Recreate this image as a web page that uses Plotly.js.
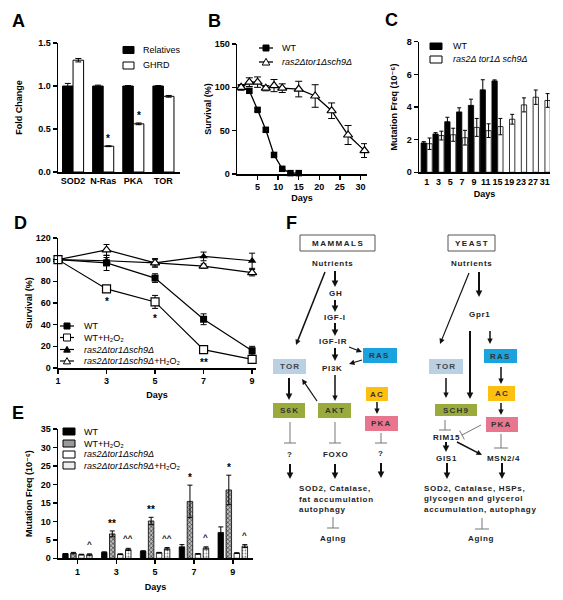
<!DOCTYPE html>
<html><head><meta charset="utf-8">
<script src="https://cdn.plot.ly/plotly-3.0.1.min.js"></script>
<style>html,body{margin:0;padding:0;background:#fff}</style>
</head><body><div id="chart" style="width:563px;height:600px"></div>
<script>
// ---------- Panel A ----------
const aGenes = ['SOD2','N-Ras','PKA','TOR'];
const aRelatives = [1.0, 1.0, 1.0, 1.0];
const aRelativesErr = [0.03, 0.01, 0.005, 0.005];
const aGHRD = [1.30, 0.30, 0.56, 0.88];
const aGHRDErr = [0.02, 0.005, 0.01, 0.01];
const aStars = ['', '*', '*', ''];

// ---------- Panel B ----------
const bDaysWT = [1,3,5,7,9,11,13,15];
const bWT = [100,96,74,51,22,6,1,1];
const bWTErr = [0,2,2,2,2,1,0,0];
const bDaysMut = [1,3,5,7,9,11,15,19,23,27,31];
const bMut = [100,106,106,99,102,99,98,90,73,45,27];
const bMutErr = [3,5,6,3,7,5,9,13,9,11,8];

// ---------- Panel C ----------
const cDays = ['1','3','5','7','9','11','15','19','23','27','31'];
const cWT = [1.8,2.35,3.1,3.7,4.1,5.05,5.6,null,null,null,null];
const cWTErr = [0.08,0.08,0.27,0.25,0.38,0.62,0.06,0,0,0,0];
const cMut = [1.75,2.25,2.3,2.12,2.75,2.55,2.8,3.25,4.13,4.6,4.4];
const cMutErr = [0.35,0.27,0.4,0.45,0.55,0.42,0.5,0.3,0.43,0.44,0.42];

// ---------- Panel D ----------
const dDays = [1,3,5,7,9];
const dWT = [100,97,83,45,16];
const dWTErr = [0,7,4,5,4];
const dWTH2O2 = [100,73,61,17,8];
const dWTH2O2Err = [0,1.5,6,2,3];
const dMut = [100,99,97,103,99];
const dMutErr = [0,3,3,4,7];
const dMutH2O2 = [100,109,97,94,88];
const dMutH2O2Err = [0,5,4,2,3];
const dStars = ['', '*', '*', '**', ''];

// ---------- Panel E ----------
const eDays = ['1','3','5','7','9'];
const eWT = [1.2,1.6,1.9,3.1,7.0];
const eWTErr = [0.1,0.15,0.15,0.6,1.5];
const eWTH2O2 = [1.4,6.6,10.1,15.4,18.5];
const eWTH2O2Err = [0.2,0.8,1.0,4.4,4.0];
const eMut = [1.0,1.1,1.5,1.2,1.4];
const eMutErr = [0.1,0.1,0.1,0.1,0.1];
const eMutH2O2 = [1.0,2.4,2.6,2.8,3.3];
const eMutH2O2Err = [0.2,0.3,0.3,0.3,0.4];
const eStarsWTH2O2 = ['', '**', '**', '*', '*'];
const eCaretsMutH2O2 = ['^', '^^', '^^', '^', '^'];

// ---------- helpers ----------
const F = 'Liberation Sans, Arial, Helvetica, DejaVu Sans, sans-serif';
const W = 563, H = 600;
const px = x => x / W, py = y => 1 - y / H;
const H2O2 = 'H\u2082O\u2082';
const MUT = 'Mutation Freq (10\u207B\u2076)';

function T(text, x, y, o) {
  o = o || {};
  return {xref:'paper', yref:'paper', x:px(x), y:py(y), text:text, showarrow:false,
    xanchor:o.xa||'center', yanchor:o.ya||'middle', textangle:o.angle||0,
    font:{family:F, size:o.size||9, color:o.color||'#000'}};
}
function Dg(text, x, y, o) {
  o = Object.assign({size:8, color:'#222'}, o||{});
  return T('<b><span style="letter-spacing:' + (o.ls||0.7) + 'px">' + text + '</span></b>', x, y, o);
}
function Ln(x1,y1,x2,y2,w,c) {
  return {type:'line', xref:'paper', yref:'paper', x0:px(x1), y0:py(y1), x1:px(x2), y1:py(y2),
    line:{color:c||'#000', width:w||1}};
}
function Arr(x1,y1,x2,y2,w) {
  const big = w >= 2;
  const L = big ? 6.5 : 5.5, hw = big ? 3.3 : 2.7;
  const dx = x2-x1, dy = y2-y1, len = Math.hypot(dx,dy), ux = dx/len, uy = dy/len;
  const bx = x2-ux*L, by = y2-uy*L;
  const p1x = bx-uy*hw, p1y = by+ux*hw, p2x = bx+uy*hw, p2y = by-ux*hw;
  return [Ln(x1,y1,bx+ux*0.5,by+uy*0.5,w,'#111'),
    {type:'path', xref:'paper', yref:'paper',
     path:`M ${px(x2)} ${py(y2)} L ${px(p1x)} ${py(p1y)} L ${px(p2x)} ${py(p2y)} Z`,
     fillcolor:'#111', line:{width:0}}];
}
function Rc(x0,y0,x1,y1,fill,lc,lw) {
  return {type:'rect', xref:'paper', yref:'paper', x0:px(x0), y0:py(y1), x1:px(x1), y1:py(y0),
    fillcolor:fill, line:{color:lc||fill, width:(lw===undefined?(lc?1:0):lw)}};
}
function Tri(cx,cy,s,fill) {
  const p = `M ${px(cx-s)} ${py(cy+s*0.8)} L ${px(cx+s)} ${py(cy+s*0.8)} L ${px(cx)} ${py(cy-s*0.95)} Z`;
  return {type:'path', xref:'paper', yref:'paper', path:p, fillcolor:fill, line:{color:'#000', width:1}};
}
function Sq(cx,cy,s,fill) { return Rc(cx-s,cy-s,cx+s,cy+s,fill,'#000',1); }
function Inh(x1,y1,x2,y2,bx0,by0,bx1,by1) {
  return [Ln(x1,y1,x2,y2,1,'#777'), Ln(bx0,by0,bx1,by1,1,'#777')];
}
const titleFont = {family:F, size:9, color:'#000', weight:'bold'};
function ax(o) {
  return Object.assign({showline:true, linecolor:'#000', linewidth:1.5, ticks:'outside', ticklen:4,
    tickwidth:1.5, tickcolor:'#000', showgrid:false, zeroline:false, fixedrange:true, tickangle:0,
    tickfont:{family:F, size:9, color:'#000', weight:'bold'}}, o);
}
function ttl(text, standoff) { return {text:text, font:titleFont, standoff:standoff}; }
function eb(arr, w) { return {type:'data', array:arr, visible:true, color:'#000', thickness:1, width:w||2.5}; }
function mark(s, xr, yr, x, y, ya, ys, size) {
  return {xref:xr, yref:yr, x:x, y:y, text:'<b>'+s+'</b>', showarrow:false,
    xanchor:'center', yanchor:ya, yshift:ys, font:{family:F, size:size||10, color:'#000'}};
}

const traces = [];
// A
traces.push({type:'bar', x:aGenes, y:aRelatives, xaxis:'x', yaxis:'y', width:0.35, offset:-0.35,
  marker:{color:'#000', line:{color:'#000', width:1}}, error_y:eb(aRelativesErr,3), showlegend:false});
traces.push({type:'bar', x:aGenes, y:aGHRD, xaxis:'x', yaxis:'y', width:0.35, offset:0,
  marker:{color:'#fff', line:{color:'#000', width:1}}, error_y:eb(aGHRDErr,3), showlegend:false});
// B
traces.push({type:'scatter', mode:'lines+markers', x:bDaysWT, y:bWT, xaxis:'x2', yaxis:'y2', cliponaxis:false,
  line:{color:'#000', width:1.3}, marker:{symbol:'square', size:6.5, color:'#000'}, error_y:eb(bWTErr,3), showlegend:false});
traces.push({type:'scatter', mode:'lines+markers', x:bDaysMut, y:bMut, xaxis:'x2', yaxis:'y2', cliponaxis:false,
  line:{color:'#000', width:1.3}, marker:{symbol:'triangle-up', size:8, color:'#fff', line:{color:'#000', width:1.2}},
  error_y:eb(bMutErr,3.5), showlegend:false});
// C
traces.push({type:'bar', x:cDays, y:cWT, xaxis:'x3', yaxis:'y3', width:0.45, offset:-0.47,
  marker:{color:'#000', line:{color:'#000', width:0.8}}, error_y:eb(cWTErr,2), showlegend:false});
traces.push({type:'bar', x:cDays, y:cMut, xaxis:'x3', yaxis:'y3', width:0.45, offset:0.02,
  marker:{color:'#fff', line:{color:'#000', width:0.8}}, error_y:eb(cMutErr,2), showlegend:false});
// D
const dCommon = {type:'scatter', mode:'lines+markers', x:dDays, xaxis:'x4', yaxis:'y4', cliponaxis:false,
  line:{color:'#000', width:1.2}, showlegend:false};
traces.push(Object.assign({}, dCommon, {y:dWT, marker:{symbol:'square', size:7, color:'#000'}, error_y:eb(dWTErr,3)}));
traces.push(Object.assign({}, dCommon, {y:dMut, marker:{symbol:'triangle-up', size:7.5, color:'#000'}, error_y:eb(dMutErr,3)}));
traces.push(Object.assign({}, dCommon, {y:dMutH2O2, marker:{symbol:'triangle-up', size:8, color:'#fff', line:{color:'#000', width:1.2}}, error_y:eb(dMutH2O2Err,3)}));
traces.push(Object.assign({}, dCommon, {y:dWTH2O2, marker:{symbol:'square', size:8, color:'#fff', line:{color:'#000', width:1.2}}, error_y:eb(dWTH2O2Err,3)}));
// E
const eW = 0.142, eSlot = 0.206;
const eOff = k => (k - 1.5) * eSlot - eW / 2;
traces.push({type:'bar', x:eDays, y:eWT, xaxis:'x5', yaxis:'y5', width:eW, offset:eOff(0),
  marker:{color:'#000', line:{color:'#000', width:0.8}}, error_y:eb(eWTErr,2.5), showlegend:false});
traces.push({type:'bar', x:eDays, y:eWTH2O2, xaxis:'x5', yaxis:'y5', width:eW, offset:eOff(1),
  marker:{color:'#999', line:{color:'#000', width:0.8}, pattern:{shape:'x', fgcolor:'#222', bgcolor:'#bbb', size:3, solidity:0.35}},
  error_y:eb(eWTH2O2Err,2.5), showlegend:false});
traces.push({type:'bar', x:eDays, y:eMut, xaxis:'x5', yaxis:'y5', width:eW, offset:eOff(2),
  marker:{color:'#fff', line:{color:'#000', width:0.8}}, error_y:eb(eMutErr,2.5), showlegend:false});
traces.push({type:'bar', x:eDays, y:eMutH2O2, xaxis:'x5', yaxis:'y5', width:eW, offset:eOff(3),
  marker:{color:'#fff', line:{color:'#000', width:0.8}, pattern:{shape:'.', fgcolor:'#888', bgcolor:'#fff', size:3, solidity:0.3}},
  error_y:eb(eMutH2O2Err,2.5), showlegend:false});

// ---------- annotations ----------
const ann = [];
[['A',18,21],['B',215,21],['C',391,20],['D',20,223],['E',18,413],['F',291,223]].forEach(l =>
  ann.push(T('<b>'+l[0]+'</b>', l[1], l[2], {size:18})));

aStars.forEach((s,i) => { if (s) ann.push(mark(s, 'x', 'y', i+0.175, aGHRD[i]+aGHRDErr[i], 'bottom', 0)); });
dStars.forEach((s,i) => { if (s) ann.push(mark(s, 'x4', 'y4', dDays[i], dWTH2O2[i]-dWTH2O2Err[i], 'top', -3)); });
eStarsWTH2O2.forEach((s,i) => { if (s) ann.push(mark(s, 'x5', 'y5', i+eOff(1)+eW/2, eWTH2O2[i]+eWTH2O2Err[i], 'bottom', 0)); });
eCaretsMutH2O2.forEach((s,i) => { if (s) ann.push(mark(s, 'x5', 'y5', i+eOff(3)+eW/2, eMutH2O2[i]+eMutH2O2Err[i], 'bottom', 3, 8)); });

// legends (text)
ann.push(T('Relatives', 141, 50, {xa:'left'}));
ann.push(T('GHRD', 141, 65.5, {xa:'left'}));
ann.push(T('WT', 280, 48, {xa:'left'}));
ann.push(T('<i>ras2Δtor1Δsch9Δ</i>', 280, 62, {xa:'left'}));
ann.push(T('WT', 451, 46, {xa:'left'}));
ann.push(T('<i>ras2Δ tor1Δ sch9Δ</i>', 451, 59.5, {xa:'left'}));
const dLegY = [326, 337.5, 349.5, 361];
ann.push(T('WT', 82, dLegY[0], {xa:'left'}));
ann.push(T('WT+' + H2O2, 82, dLegY[1], {xa:'left'}));
ann.push(T('<i>ras2Δtor1Δsch9Δ</i>', 82, dLegY[2], {xa:'left'}));
ann.push(T('<i>ras2Δtor1Δsch9Δ</i>+' + H2O2, 82, dLegY[3], {xa:'left'}));
const eLegY = [431.5, 443.5, 454.5, 465.5];
ann.push(T('WT', 82, eLegY[0], {xa:'left'}));
ann.push(T('WT+' + H2O2, 82, eLegY[1], {xa:'left'}));
ann.push(T('<i>ras2Δtor1Δsch9Δ</i>', 82, eLegY[2], {xa:'left'}));
ann.push(T('<i>ras2Δtor1Δsch9Δ</i>+' + H2O2, 82, eLegY[3], {xa:'left'}));

// ---------- shapes ----------
const shp = [];
shp.push(Rc(123,46.5,134,53.5,'#000','#000',1));
shp.push(Rc(123,62,134,69,'#fff','#000',1));
shp.push(Ln(259,48,273,48,1.3)); shp.push(Sq(266,48,3,'#000'));
shp.push(Ln(259,62,273,62,1.3)); shp.push(Tri(266,62,3.8,'#fff'));
shp.push(Rc(430,43,442,49.5,'#000','#000',1));
shp.push(Rc(430,56,442,63,'#fff','#000',1));
shp.push(Ln(60,dLegY[0],74,dLegY[0],1.2)); shp.push(Sq(67,dLegY[0],3,'#000'));
shp.push(Ln(60,dLegY[1],74,dLegY[1],1.2)); shp.push(Sq(67,dLegY[1],3.5,'#fff'));
shp.push(Ln(60,dLegY[2],74,dLegY[2],1.2)); shp.push(Tri(67,dLegY[2],3.3,'#000'));
shp.push(Ln(60,dLegY[3],74,dLegY[3],1.2)); shp.push(Tri(67,dLegY[3],3.6,'#fff'));
shp.push(Rc(63,eLegY[0]-3.5,75,eLegY[0]+3.5,'#000','#000',1));
shp.push(Rc(63,eLegY[1]-3.5,75,eLegY[1]+3.5,'#9a9a9a','#000',1));
shp.push(Rc(63,eLegY[2]-3.5,75,eLegY[2]+3.5,'#fff','#000',1));
shp.push(Rc(63,eLegY[3]-3.5,75,eLegY[3]+3.5,'#eeeeee','#000',1));

// ---------- Panel F diagram ----------
const cTOR = '#b9d1e3', cRAS = '#1ba3de', cAC = '#fdc010', cPKA = '#e8768f', cGRN = '#9aab3c';
shp.push(Rc(300,235,375,251,'#fff','#555',1));
ann.push(Dg('MAMMALS', 337.5, 243, {ls:1.5}));
ann.push(Dg('Nutrients', 332, 263));
shp.push(...Arr(335,271,335,287,2));
ann.push(Dg('GH', 335, 293));
shp.push(...Arr(335,300,335,312,2));
ann.push(Dg('IGF-I', 335, 317));
shp.push(...Arr(335,323,335,336,2));
ann.push(Dg('IGF-IR', 333, 342));
shp.push(...Arr(335,348,335,361,2));
ann.push(Dg('PI3K', 333, 368));
shp.push(...Arr(335,375,335,401,1.5));
shp.push(Rc(318,403,351,418,cGRN));
ann.push(Dg('AKT', 334.5, 410.5, {ls:1.2, color:'#333'}));
shp.push(Rc(273,403,305,418,cGRN));
ann.push(Dg('S6K', 289, 410.5, {ls:1.2, color:'#333'}));
shp.push(Rc(273,359,306,374,cTOR));
ann.push(Dg('TOR', 289.5, 366.5, {ls:1.2, color:'#444'}));
shp.push(...Arr(325,272,296,345,1.5));
shp.push(...Arr(289,378,289,400,2));
shp.push(...Arr(317,401,302,379,1.2));
shp.push(...Arr(349,347,362,352,1.2));
shp.push(...Arr(362,360,349,364,1.2));
shp.push(Rc(363,348,397,363,cRAS));
ann.push(Dg('RAS', 380, 355.5, {ls:1.2, color:'#333'}));
shp.push(Rc(366,387,388,401,cAC));
ann.push(Dg('AC', 377, 394, {ls:1.2, color:'#333'}));
shp.push(...Arr(377,402,377,414,1.5));
shp.push(Rc(365,416,398,431,cPKA));
ann.push(Dg('PKA', 381.5, 423.5, {ls:1.2, color:'#333'}));
shp.push(...Inh(290,422,290,443,284,443,296,443));
ann.push(Dg('?', 290, 454));
shp.push(...Arr(290,464,290,479,2));
shp.push(...Inh(335,422,335,443,329,443,341,443));
ann.push(Dg('FOXO', 335, 454));
shp.push(...Arr(335,464,335,479,2));
shp.push(...Inh(381,433,381,443,375,443,387,443));
ann.push(Dg('?', 381, 453));
shp.push(...Arr(381,463,381,478,2));
ann.push(Dg('SOD2, Catalase,', 297, 489, {xa:'left'}));
ann.push(Dg('fat accumulation', 297, 499, {xa:'left'}));
ann.push(Dg('autophagy', 297, 509, {xa:'left'}));
shp.push(...Inh(333,517,333,528,327,528,339,528));
ann.push(Dg('Aging', 333, 538));
shp.push(Rc(448,235,495,251,'#fff','#555',1));
ann.push(Dg('YEAST', 471.5, 243, {ls:1.5}));
ann.push(Dg('Nutrients', 471, 263));
shp.push(...Arr(479,272,479,297,2));
ann.push(Dg('Gpr1', 480, 314));
shp.push(...Arr(469,273,440,344,1.2));
shp.push(...Arr(470,331,470,399,2));
shp.push(...Arr(490,331,490,344,1.5));
shp.push(Rc(484,349,517,363,cRAS));
ann.push(Dg('RAS', 500.5, 356, {ls:1.2, color:'#333'}));
shp.push(Rc(429,359,463,374,cTOR));
ann.push(Dg('TOR', 446, 366.5, {ls:1.2, color:'#444'}));
shp.push(...Arr(446,378,446,398,1.5));
shp.push(Rc(435,404,477,416,cGRN));
ann.push(Dg('SCH9', 456, 410, {ls:1.2, color:'#333'}));
shp.push(...Arr(501,367,501,384,1.5));
shp.push(Rc(488,386,515,401,cAC));
ann.push(Dg('AC', 501.5, 393.5, {ls:1.2, color:'#333'}));
shp.push(...Arr(501,403,501,415,1.5));
shp.push(Rc(486,417,518,432,cPKA));
ann.push(Dg('PKA', 502, 424.5, {ls:1.2, color:'#333'}));
shp.push(...Inh(445,420,445,430,439,430,451,430));
ann.push(Dg('RIM15', 446, 437));
shp.push(...Inh(481,425,462,435,459.7,430.6,464.3,439.4));
shp.push(...Arr(446,442,446,452,2));
ann.push(Dg('GIS1', 446, 458));
shp.push(...Arr(457,442,482,455,1.5));
shp.push(...Inh(501,434,501,448,494,448,508,448));
ann.push(Dg('MSN2/4', 503, 458));
shp.push(...Arr(447,463,447,479,2));
shp.push(...Arr(502,463,502,479,2));
ann.push(Dg('SOD2, Catalase, HSPs,', 422, 488, {xa:'left'}));
ann.push(Dg('glycogen and glycerol', 422, 498, {xa:'left'}));
ann.push(Dg('accumulation, autophagy', 422, 509, {xa:'left'}));
shp.push(...Inh(482,518,482,529,475,529,489,529));
ann.push(Dg('Aging', 481, 538));

const layout = {
  width: W, height: H, margin:{l:0, r:0, t:0, b:0, pad:0},
  paper_bgcolor:'#fff', plot_bgcolor:'rgba(0,0,0,0)',
  showlegend:false, barmode:'overlay', font:{family:F, size:9, color:'#000'},
  xaxis: ax({domain:[px(58), px(180)], type:'category', range:[-0.5,3.55], ticks:'', anchor:'y'}),
  yaxis: ax({domain:[py(172), py(43)], range:[0,1.5], tickvals:[0,0.5,1,1.5], tickformat:'.1f', anchor:'x',
    title:ttl('Fold Change', 14)}),
  xaxis2: ax({domain:[px(237), px(367)], range:[0,31.6], tickvals:[5,10,15,20,25,30], anchor:'y2',
    title:ttl('Days', 3)}),
  yaxis2: ax({domain:[py(174), py(44)], range:[0,150], tickvals:[0,50,100,150], anchor:'x2',
    title:ttl('Survival (%)', 1)}),
  xaxis3: ax({domain:[px(419), px(550)], type:'category', range:[-0.65,10.45], ticks:'', anchor:'y3',
    title:ttl('Days', 5)}),
  yaxis3: ax({domain:[py(172.3), py(41.7)], range:[0,8], tickvals:[0,2,4,6,8], anchor:'x3',
    title:ttl(MUT, 7)}),
  xaxis4: ax({domain:[px(58), px(256)], range:[1,9.16], tickvals:[1,3,5,7,9], anchor:'y4',
    title:ttl('Days', 6)}),
  yaxis4: ax({domain:[py(368), py(238)], range:[0,120], tickvals:[0,20,40,60,80,100,120], anchor:'x4',
    title:ttl('Survival (%)', 1)}),
  xaxis5: ax({domain:[px(58), px(253)], type:'category', range:[-0.5,4.52], anchor:'y5',
    title:ttl('Days', 8)}),
  yaxis5: ax({domain:[py(558.3), py(429)], range:[0,35], tickvals:[0,5,10,15,20,25,30,35], anchor:'x5',
    title:ttl(MUT, 6)}),
  annotations: ann,
  shapes: shp
};
Plotly.newPlot('chart', traces, layout, {staticPlot:true, displayModeBar:false});
</script>
</body></html>
